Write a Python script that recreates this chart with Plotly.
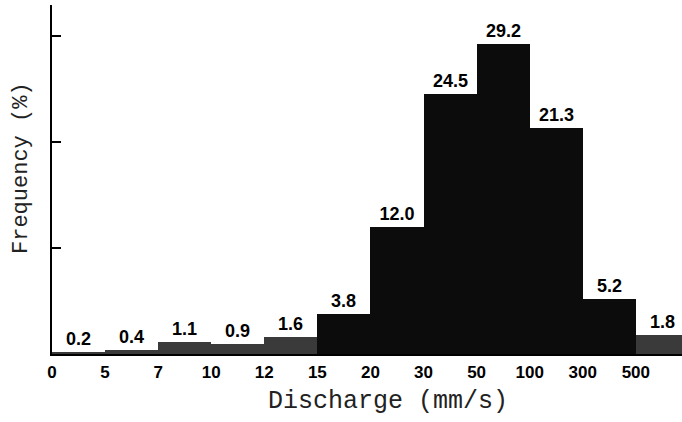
import plotly.graph_objects as go

tick_labels = ["0", "5", "7", "10", "12", "15", "20", "30", "50", "100", "300", "500"]
frequency = [0.2, 0.4, 1.1, 0.9, 1.6, 3.8, 12.0, 24.5, 29.2, 21.3, 5.2, 1.8]
bar_labels = ["0.2", "0.4", "1.1", "0.9", "1.6", "3.8", "12.0", "24.5", "29.2", "21.3", "5.2", "1.8"]
y_ticks = [10, 20, 30]

positions = [i + 0.5 for i in range(len(frequency))]
edges = list(range(len(tick_labels)))
colors = ["#3a3a3a" if v < 3 else "#0c0c0c" for v in frequency]

fig = go.Figure()
fig.add_trace(go.Bar(
    x=positions, y=frequency, width=1.0,
    marker=dict(color=colors, line=dict(width=0)),
    text=bar_labels, textposition="outside", cliponaxis=False, constraintext="none",
    textfont=dict(family="Liberation Sans Narrow, Arial Narrow, Liberation Sans", size=18,
                  color="black", weight="bold"),
    showlegend=False,
))

fig.update_layout(
    width=682, height=422,
    margin=dict(l=52, r=0, t=5, b=68),
    paper_bgcolor="white", plot_bgcolor="white",
    bargap=0,
    xaxis=dict(range=[0, 11.87], tickvals=edges, ticktext=tick_labels,
               showgrid=False, zeroline=False, showline=True, linecolor="black", linewidth=2,
               ticks="", tickfont=dict(family="Liberation Sans Narrow, Arial Narrow, Liberation Sans",
                                        size=17, color="black", weight="bold"),
               ticklabelstandoff=2),
    yaxis=dict(range=[0, 32.9], tickvals=y_ticks, showticklabels=False, showgrid=False,
               zeroline=False, showline=True, linecolor="black", linewidth=2,
               ticks="inside", ticklen=9, tickwidth=1.5, tickcolor="black"),
    annotations=[
        dict(text="Discharge (mm/s)", xref="paper", yref="paper", x=(388 - 52) / 630, y=-0.135,
             xanchor="center", yanchor="middle", showarrow=False,
             font=dict(family="Liberation Mono, Courier New, monospace", size=25, color="#222")),
        dict(text="Frequency (%)", xref="paper", yref="paper", x=(22 - 52) / 630, y=(354 - 168) / 349,
             xanchor="center", yanchor="middle", showarrow=False, textangle=-90,
             font=dict(family="Liberation Mono, Courier New, monospace", size=22, color="#222")),
    ],
)

fig.write_html("out.html")
